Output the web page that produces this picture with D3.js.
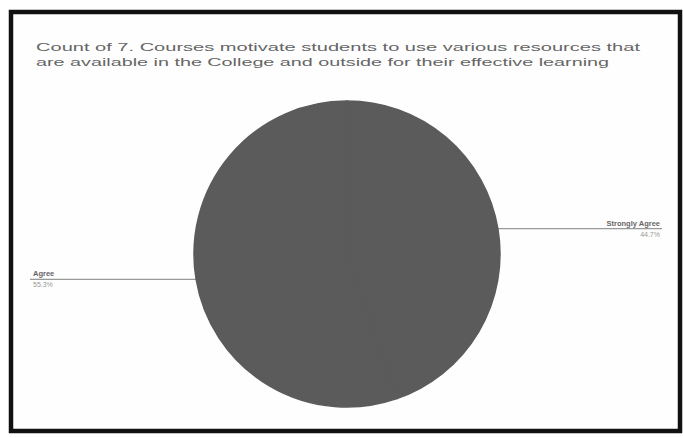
<!DOCTYPE html>
<html><head><meta charset="utf-8">
<script src="https://cdn.jsdelivr.net/npm/d3@7"></script>
<style>body{margin:0;background:#fff}svg{display:block}</style>
</head><body>
<svg id="c" width="683" height="438"></svg>
<script>
const titleLines = ["Count of 7. Courses motivate students to use various resources that",
                    "are available in the College and outside for their effective learning"];
const categories = ["Strongly Agree", "Agree"];
const values = [44.7, 55.3];
const colors = ["#5b5b5b", "#5b5b5b"];

const svg = d3.select("#c");
svg.append("rect").attr("width",683).attr("height",438).attr("fill","#fff");
svg.append("rect").attr("x",11).attr("y",12).attr("width",669).attr("height",419)
  .attr("fill","#fefefe").attr("stroke","#111").attr("stroke-width",4.5);

svg.selectAll("text.title").data(titleLines).join("text").attr("class","title")
  .attr("x",36).attr("y",(d,i)=>51+i*15)
  .attr("font-family","Liberation Sans, Arial, sans-serif").attr("font-size",11.5)
  .attr("fill","#666").attr("textLength",(d,i)=>i===0?604:573).attr("lengthAdjust","spacingAndGlyphs")
  .text(d=>d);

const cx=347, cy=254, r=153;
const pie = d3.pie().sort(null).value(d=>d);
const arcs = pie(values);
const arc = d3.arc().innerRadius(0).outerRadius(r);
const g = svg.append("g").attr("transform",`translate(${cx},${cy})`);
g.selectAll("path").data(arcs).join("path").attr("d",arc)
  .attr("fill",(d,i)=>colors[i]).attr("stroke",(d,i)=>colors[i]).attr("stroke-width",1.5);

const total = d3.sum(values);
arcs.forEach((a,i)=>{
  const m=(a.startAngle+a.endAngle)/2;
  const px=cx+r*Math.sin(m), py=cy-r*Math.cos(m);
  const right = Math.sin(m)>0;
  const ex = right?662:30;
  svg.insert("line","g").attr("x1",px).attr("y1",py).attr("x2",ex).attr("y2",py)
    .attr("stroke","#999").attr("stroke-width",1.2);
  const tx = right?ex-2:ex+3;
  const anchor = right?"end":"start";
  svg.append("text").attr("x",tx).attr("y",py-3).attr("text-anchor",anchor)
    .attr("font-family","Liberation Sans, Arial, sans-serif").attr("font-size",7.5)
    .attr("font-weight","bold").attr("fill","#666").text(categories[i]);
  svg.append("text").attr("x",tx).attr("y",py+8).attr("text-anchor",anchor)
    .attr("font-family","Liberation Sans, Arial, sans-serif").attr("font-size",7)
    .attr("fill","#999").text((values[i]/total*100).toFixed(1)+"%");
});
</script>
</body></html>
